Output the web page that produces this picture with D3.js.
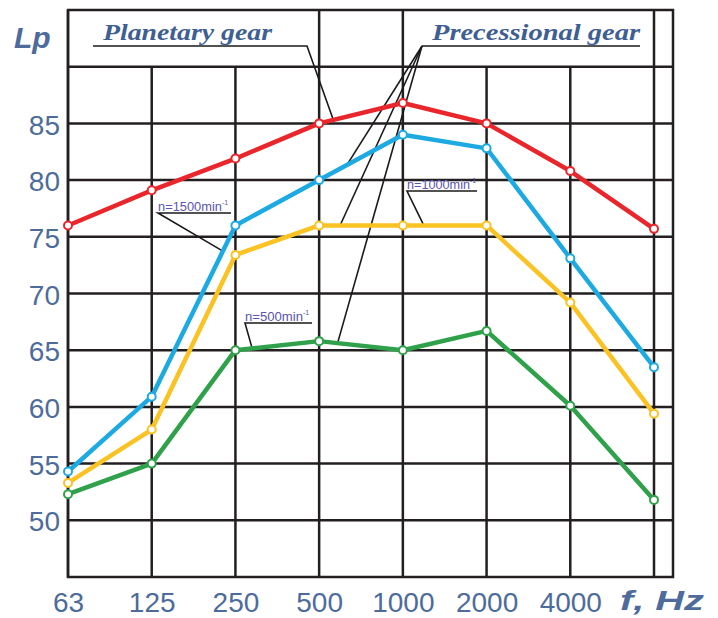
<!DOCTYPE html>
<html>
<head>
<meta charset="utf-8">
<script src="https://cdn.jsdelivr.net/npm/d3@7"></script>
<style>
  body { margin: 0; background: #fff; }
  svg { display: block; }
</style>
</head>
<body>
<div id="chart"></div>
<script>
(function(){
  // data
  const freqs = ["63", "125", "250", "500", "1000", "2000", "4000", "8000"];
  const yTicks = [50, 55, 60, 65, 70, 75, 80, 85];
  const gridLevels = [50, 55, 60, 65, 70, 75, 80, 85, 90];
  const planetary = [76.0, 79.1, 81.9, 85.0, 86.8, 85.0, 80.8, 75.7];
  const prec1500 = [54.3, 60.9, 76.0, 80.0, 84.0, 82.8, 73.1, 63.5];
  const prec1000 = [53.3, 58.0, 73.4, 76.0, 76.0, 76.0, 69.2, 59.4];
  const prec500 = [52.3, 55.0, 65.0, 65.8, 65.0, 66.7, 60.1, 51.8];

  const width = 718;
  const height = 618;
  const gridColor = "#231f20";
  const textColor = "#4d6b9b";
  const labelColor = "#5a55ad";

  const svg = d3.select("#chart")
    .append("svg")
    .attr("width", width)
    .attr("height", height);

  const x = d3.scalePoint().domain(freqs).range([68, 654]);
  const y = d3.scaleLinear().domain([45, 95]).range([577, 10]);
  const right = 673;

  // position along a series, between point i and i+1
  function along(values, i, t) {
    const x0 = x(freqs[i]), x1 = x(freqs[i + 1]);
    return [x0 + (x1 - x0) * t, y(values[i] + (values[i + 1] - values[i]) * t)];
  }

  // grid
  const grid = svg.append("g")
    .attr("stroke", gridColor)
    .attr("stroke-width", 2.5)
    .attr("fill", "none");

  grid.selectAll("line.h")
    .data(gridLevels)
    .enter().append("line")
    .attr("x1", x(freqs[0]))
    .attr("x2", right)
    .attr("y1", d => y(d))
    .attr("y2", d => y(d));

  const tall = ["63", "500", "1000", "8000"];
  grid.selectAll("line.v")
    .data(freqs)
    .enter().append("line")
    .attr("x1", d => x(d))
    .attr("x2", d => x(d))
    .attr("y1", d => tall.includes(d) ? y(95) : y(90))
    .attr("y2", y(45));

  grid.append("rect")
    .attr("x", x(freqs[0]))
    .attr("y", y(95))
    .attr("width", right - x(freqs[0]))
    .attr("height", y(45) - y(95));

  // axes labels
  const yAxis = svg.append("g")
    .attr("transform", `translate(${x(freqs[0])},0)`)
    .call(d3.axisLeft(y).tickValues(yTicks).tickSize(0).tickPadding(8));
  yAxis.select(".domain").remove();
  yAxis.selectAll("text")
    .attr("fill", textColor)
    .attr("dy", "0.38em")
    .style("font-family", "'Liberation Sans', Arial, sans-serif")
    .style("font-size", "28px");

  const xAxis = svg.append("g")
    .attr("transform", `translate(0,${y(45)})`)
    .call(d3.axisBottom(x).tickSize(0).tickPadding(15));
  xAxis.select(".domain").remove();
  xAxis.selectAll("text")
    .attr("fill", textColor)
    .style("font-family", "'Liberation Sans', Arial, sans-serif")
    .style("font-size", "28px")
    .text(d => d === "8000" ? "" : d);

  svg.append("text")
    .attr("x", 14)
    .attr("y", 48)
    .attr("fill", textColor)
    .style("font-family", "'Liberation Sans', Arial, sans-serif")
    .style("font-weight", "bold")
    .style("font-style", "italic")
    .style("font-size", "30px")
    .text("Lp");

  svg.append("text")
    .attr("x", 620)
    .attr("y", 610)
    .attr("fill", textColor)
    .attr("textLength", 84)
    .attr("lengthAdjust", "spacingAndGlyphs")
    .style("font-family", "'Liberation Sans', Arial, sans-serif")
    .style("font-weight", "bold")
    .style("font-style", "italic")
    .style("font-size", "28px")
    .text("f, Hz");

  // leader lines
  const leaders = svg.append("g")
    .attr("stroke", "#1a1a1a")
    .attr("stroke-width", 1.6)
    .attr("fill", "none");
  const path = d3.line();

  leaders.append("path").attr("d", path([[93, 46], [307, 46], along(planetary, 3, 0.17)]));
  leaders.append("path").attr("d", path([[640, 46], [422, 46]]));
  [along(prec1500, 3, 0.33), along(prec1000, 3, 0.25), along(prec500, 3, 0.22)].forEach(p => {
    leaders.append("path").attr("d", path([[422, 46], p]));
  });
  leaders.append("path").attr("d", path([[231, 213], [158, 213], along(prec1500, 1, 0.85)]));
  leaders.append("path").attr("d", path([[477, 191], [407, 191], along(prec1000, 4, 0.25)]));
  leaders.append("path").attr("d", path([[312, 323], [245, 323], along(prec500, 2, 0.2)]));

  // titles
  const serif = "'Liberation Serif', 'Times New Roman', serif";
  [["Planetary gear", 103, 272], ["Precessional gear", 432, 640]].forEach(([t, x0, x1]) => {
    svg.append("text")
      .attr("x", x0)
      .attr("y", 40)
      .attr("fill", "#3f5f93")
      .attr("textLength", x1 - x0)
      .attr("lengthAdjust", "spacingAndGlyphs")
      .style("font-family", serif)
      .style("font-weight", "bold")
      .style("font-style", "italic")
      .style("font-size", "23px")
      .text(t);
  });

  // series
  const series = [
    { values: planetary, color: "#e8262b" },
    { values: prec1500, color: "#1da9e1" },
    { values: prec1000, color: "#fbc223" },
    { values: prec500, color: "#2fa14a" }
  ];
  const line = d3.line().x((d, i) => x(freqs[i])).y(d => y(d));

  series.forEach(s => {
    svg.append("path")
      .datum(s.values)
      .attr("d", line)
      .attr("fill", "none")
      .attr("stroke", s.color)
      .attr("stroke-width", 4.5)
      .attr("stroke-linejoin", "round");
    svg.selectAll(null)
      .data(s.values)
      .enter().append("circle")
      .attr("cx", (d, i) => x(freqs[i]))
      .attr("cy", d => y(d))
      .attr("r", 4)
      .attr("fill", "#fff")
      .attr("stroke", s.color)
      .attr("stroke-width", 2);
  });

  // speed labels
  [["n=1500min", 158, 211, 64], ["n=1000min", 407, 189, 63], ["n=500min", 245, 321, 58]].forEach(([t, x0, y0, w]) => {
    const txt = svg.append("text")
      .attr("x", x0)
      .attr("y", y0)
      .attr("fill", labelColor)
      .style("font-family", "'Liberation Sans', Arial, sans-serif")
      .style("font-size", "12px");
    txt.append("tspan").attr("textLength", w).attr("lengthAdjust", "spacingAndGlyphs").text(t);
    txt.append("tspan").attr("dy", -6).style("font-size", "7px").text("-1");
  });
})();
</script>
</body>
</html>
